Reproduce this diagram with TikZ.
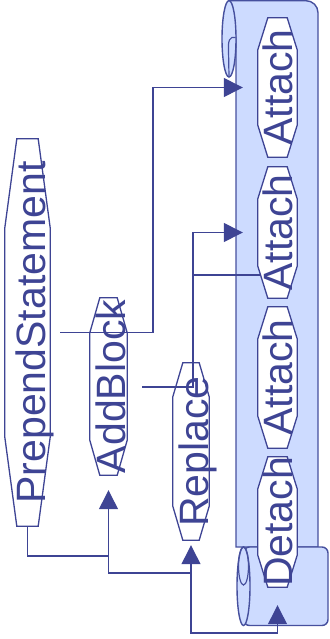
\documentclass[tikz,border=0pt]{standalone}
\usepackage{fontspec}
\setmainfont{Liberation Sans}
\usetikzlibrary{arrows.meta,calc}

\definecolor{ink}{RGB}{62,68,148}
\definecolor{scrollfill}{RGB}{205,219,255}
\definecolor{scrollline}{RGB}{70,80,158}

\pgfdeclarelayer{parchment}
\pgfdeclarelayer{frames}
\pgfsetlayers{parchment,frames,main}

\tikzset{
  stepbox/.style={rotate=90, inner sep=0pt, text=ink,
    font=\fontsize{41}{41}\selectfont},
  frame/.style={draw=ink, fill=white, line width=1.3pt, line join=miter},
  flow/.style={draw=ink, line width=1.3pt},
  tip/.style={-{Triangle[length=19pt,width=19pt]}},
  scroll/.style={draw=scrollline, fill=scrollfill, line width=1.4pt},
  scrollcurl/.style={draw=scrollline, line width=1.2pt},
}

% elongated octagon around a rotated node: #1 node, #2 chamfer length, #3 chamfer depth
\newcommand\octframe[3]{%
  \begin{pgfonlayer}{frames}
    \path[frame] ($(#1.north east)+(#3,0)$) -- ($(#1.south east)+(-#3,0)$)
      -- ($(#1.south east)+(0,#2)$) -- ($(#1.south west)+(0,-#2)$)
      -- ($(#1.south west)+(-#3,0)$) -- ($(#1.north west)+(#3,0)$)
      -- ($(#1.north west)+(0,-#2)$) -- ($(#1.north east)+(0,#2)$) -- cycle;
  \end{pgfonlayer}}

\begin{document}
\begin{tikzpicture}[x=1pt,y=-1pt]
\useasboundingbox (0,0) rectangle (329,639);

% the scroll behind the right-hand column
\begin{pgfonlayer}{parchment}
  \path[scroll] (229,0.7) [rounded corners=12] -- (318,0.7) [sharp corners]
    -- (318,547) -- (236,547) -- (236,38.5) -- cycle;
  \path[scroll] (229,38.8) ellipse[x radius=7, y radius=38.2];
  \draw[scrollcurl] (235.5,37.5) .. controls (229.5,36) and (228,41) .. (228.5,50) -- (229,76.5);
  \path[scroll, rounded corners=6] (243.5,547) -- (328,547) -- (328,625.5) -- (243.5,625.5) -- cycle;
  \path[scroll] (243.5,586.2) ellipse[x radius=6.5, y radius=39.3];
  \draw[scrollcurl] (243.5,566) ellipse[x radius=5, y radius=19];
\end{pgfonlayer}

% steps
\node[stepbox, minimum width=387pt, text height=40pt, text depth=5pt]
  (prep) at (27.5,332.5) {PrependStatement};
\node[stepbox, minimum width=177pt, text height=35.5pt, text depth=1.5pt]
  (addblock) at (108.5,386.5) {AddBlock};
\node[stepbox, minimum width=177pt, text height=35pt, text depth=1pt]
  (replace) at (191,451.5) {Replace};
\node[stepbox, minimum width=139pt, text height=34pt, text depth=5pt]
  (attach1) at (277.5,87.5) {Attach};
\node[stepbox, minimum width=131pt, text height=34pt, text depth=5pt]
  (attach2) at (277.5,232.5) {Attach};
\node[stepbox, minimum width=141pt, text height=34pt, text depth=5pt]
  (attach3) at (277.5,377.5) {Attach};
\node[stepbox, minimum width=130pt, text height=34pt, text depth=5pt]
  (detach) at (277.5,522) {Detach};

\octframe{prep}{89}{12}
\octframe{addblock}{35}{10}
\octframe{replace}{34}{10}
\octframe{attach1}{32}{10}
\octframe{attach2}{32}{10}
\octframe{attach3}{32}{10}
\octframe{detach}{32}{10}

% connector end points and bends
\coordinate (srcA) at (60,332.5);
\coordinate (kneeA) at (153,332.5);
\coordinate (srcB) at (142,387);
\coordinate (kneeB) at (193,387);
\coordinate (tapB) at (193,275);
\coordinate (tapEnd) at (261,275);
\coordinate (jA) at (108.5,556);
\coordinate (jB) at (108.5,573);
\coordinate (jC) at (replace.west |- jB);
\coordinate (jD) at (191,633);

% connectors
\draw[flow, tip, shorten >=15pt] (srcA) -- (kneeA) |- (attach1.north);
\draw[flow, tip, shorten >=15pt] (srcB) -- (kneeB) |- (attach2.north);
\draw[flow] (tapEnd) -- (tapB);
\draw[flow, tip, shorten >=15pt] (prep.west) |- (jA) -- (addblock.west);
\draw[flow, tip, shorten >=5pt] (jA) -- (jB) -| (replace.west);
\draw[flow, tip, shorten >=18pt] (jC) -- (jD) -| (detach.west);
\end{tikzpicture}
\end{document}
